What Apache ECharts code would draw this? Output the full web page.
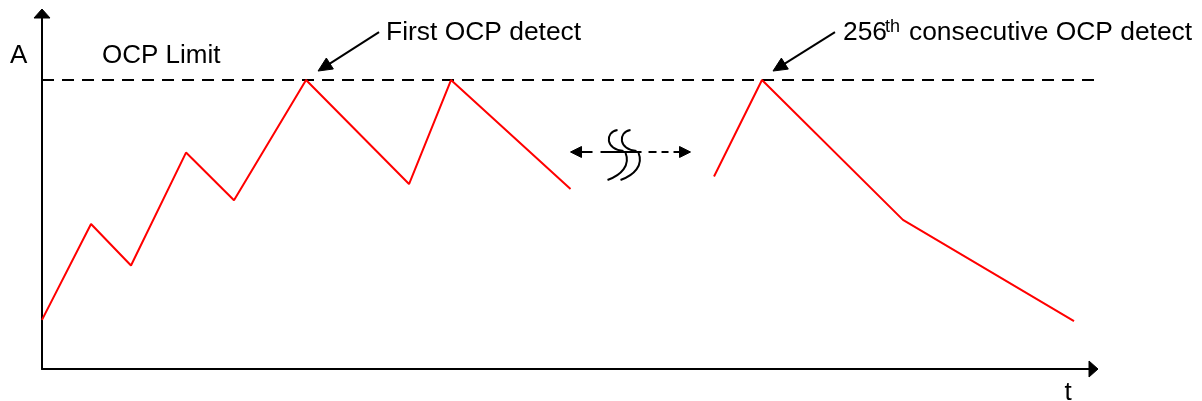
<!DOCTYPE html>
<html>
<head>
<meta charset="utf-8">
<script src="https://cdn.jsdelivr.net/npm/echarts@6/dist/echarts.min.js"></script>
<style>
html,body{margin:0;padding:0;background:#fff;}
#chart{width:1202px;height:401px;}
</style>
</head>
<body>
<div id="chart"></div>
<script>
// Time (arbitrary units, 0..100) and current (% of OCP limit)
const timeBefore = [0, 4.66, 8.46, 13.69, 18.25, 25.10, 34.89, 38.88, 50.24];
const currentBefore = [17.0, 50.2, 35.8, 74.9, 58.4, 100, 64.0, 100, 62.3];
const timeAfter = [63.88, 68.44, 81.84, 98.10];
const currentAfter = [66.6, 100, 51.6, 16.6];
const ocpLimit = 100;
const limitSpan = [0, 100.4];
const firstDetectIndex = 5;   // in "before" segment
const lastDetectIndex = 1;    // in "after" segment
const breakLevel = 75.1;

const FONT = '"Liberation Sans", Arial, sans-serif';

const chart = echarts.init(document.getElementById('chart'), null, {renderer: 'canvas'});

const axisCommon = {
  type: 'value',
  axisTick: {show: false},
  axisLabel: {show: false},
  splitLine: {show: false},
  axisLine: {
    show: true,
    onZero: true,
    symbol: 'none',
    lineStyle: {color: '#000', width: 2}
  }
};

const option = {
  animation: false,
  backgroundColor: '#fff',
  grid: {left: 42, right: 108, top: 13, bottom: 32},
  xAxis: Object.assign({}, axisCommon, {min: 0, max: 100}),
  yAxis: Object.assign({}, axisCommon, {min: 0, max: 123.2}),
  series: [
    {
      type: 'line',
      data: limitSpan.map(t => [t, ocpLimit]),
      symbol: 'none',
      clip: false,
      lineStyle: {color: '#000', width: 2, type: [12, 8]},
      silent: true,
      z: 1
    },
    {
      type: 'line',
      data: timeBefore.map((t, i) => [t, currentBefore[i]]),
      symbol: 'none',
      lineStyle: {color: '#ff0000', width: 2},
      z: 2
    },
    {
      type: 'line',
      data: timeAfter.map((t, i) => [t, currentAfter[i]]),
      symbol: 'none',
      lineStyle: {color: '#ff0000', width: 2},
      z: 2
    }
  ]
};
chart.setOption(option);

function px(t, v) { return chart.convertToPixel({gridIndex: 0}, [t, v]); }

function head(tip, ux, uy, len, half) {
  const bx = tip[0] - ux * len, by = tip[1] - uy * len;
  return {type: 'polygon', shape: {points: [tip, [bx - uy * half, by + ux * half], [bx + uy * half, by - ux * half]]}, style: {fill: '#000', stroke: '#000', lineWidth: 1}};
}
function arrow(tail, tip, len, half) {
  const dx = tip[0] - tail[0], dy = tip[1] - tail[1];
  const L = Math.sqrt(dx * dx + dy * dy);
  const ux = dx / L, uy = dy / L;
  const bx = tip[0] - ux * len, by = tip[1] - uy * len;
  return [
    {type: 'line', shape: {x1: tail[0], y1: tail[1], x2: bx + ux, y2: by + uy}, style: {stroke: '#000', lineWidth: 2}},
    head(tip, ux, uy, len, half)
  ];
}

function text(str, x, y, size, align) {
  return {type: 'text', style: {text: str, x: x, y: y, font: size + 'px ' + FONT, fill: '#000', align: align || 'left', verticalAlign: 'middle'}};
}

const g = [];
const origin = px(0, 0);
const limitPx = px(0, ocpLimit);
const p1 = px(timeBefore[firstDetectIndex], currentBefore[firstDetectIndex]);
const p2 = px(timeAfter[lastDetectIndex], currentAfter[lastDetectIndex]);
const xEnd = px(100, 0);
const yEnd = px(0, 123.2);

// axis arrowheads
g.push(head([xEnd[0] + 4, xEnd[1]], 1, 0, 9, 8));
g.push(head([yEnd[0], yEnd[1] - 4], 0, -1, 9, 8));

// axis titles and limit label
g.push(text('A', origin[0] - 32, limitPx[1] - 24, 26));
g.push(text('t', xEnd[0] - 26, origin[1] + 24, 26, 'center'));
g.push(text('OCP Limit', origin[0] + 60, limitPx[1] - 24, 26));

// first detect annotation
g.push(...arrow([p1[0] + 73, p1[1] - 48], [p1[0] + 12, p1[1] - 9], 14, 6.5));
g.push(text('First OCP detect', p1[0] + 80, p1[1] - 47, 26.4));

// 256th annotation
g.push(...arrow([p2[0] + 73, p2[1] - 48], [p2[0] + 11, p2[1] - 9], 14, 6.5));
g.push(text('256', p2[0] + 81, p2[1] - 47, 26.4));
g.push(text('th', p2[0] + 123, p2[1] - 53, 18));
g.push(text('consecutive OCP detect', p2[0] + 147, p2[1] - 47, 26.4));

// break symbol
const bEnd = px(timeBefore[timeBefore.length - 1], breakLevel);
const cx = bEnd[0] + 60, cy = bEnd[1];
const L = cx - 60, R = cx + 60;
g.push(head([L, cy], -1, 0, 11, 5.5));
g.push(head([R, cy], 1, 0, 11, 5.5));
[[L + 9, L + 22], [cx - 30, cx + 11], [cx + 18, cx + 26], [cx + 31, cx + 38], [cx + 43, R - 9]].forEach(s => {
  g.push({type: 'line', shape: {x1: s[0], y1: cy, x2: s[1], y2: cy}, style: {stroke: '#000', lineWidth: 2}});
});
[0, 13].forEach(o => {
  const x0 = cx - 14 + o;
  g.push({type: 'bezierCurve', shape: {x1: x0 + 1, y1: cy - 22, cpx1: x0 - 12, cpy1: cy - 20, cpx2: x0 - 11, cpy2: cy - 2, x2: x0 + 7, y2: cy - 1}, style: {stroke: '#000', lineWidth: 2, fill: null}});
  g.push({type: 'bezierCurve', shape: {x1: x0 + 9, y1: cy + 1, cpx1: x0 + 14, cpy1: cy + 13, cpx2: x0 + 5, cpy2: cy + 23, x2: x0 - 9, y2: cy + 28}, style: {stroke: '#000', lineWidth: 2, fill: null}});
});

chart.setOption({graphic: {elements: g}});
</script>
</body>
</html>
